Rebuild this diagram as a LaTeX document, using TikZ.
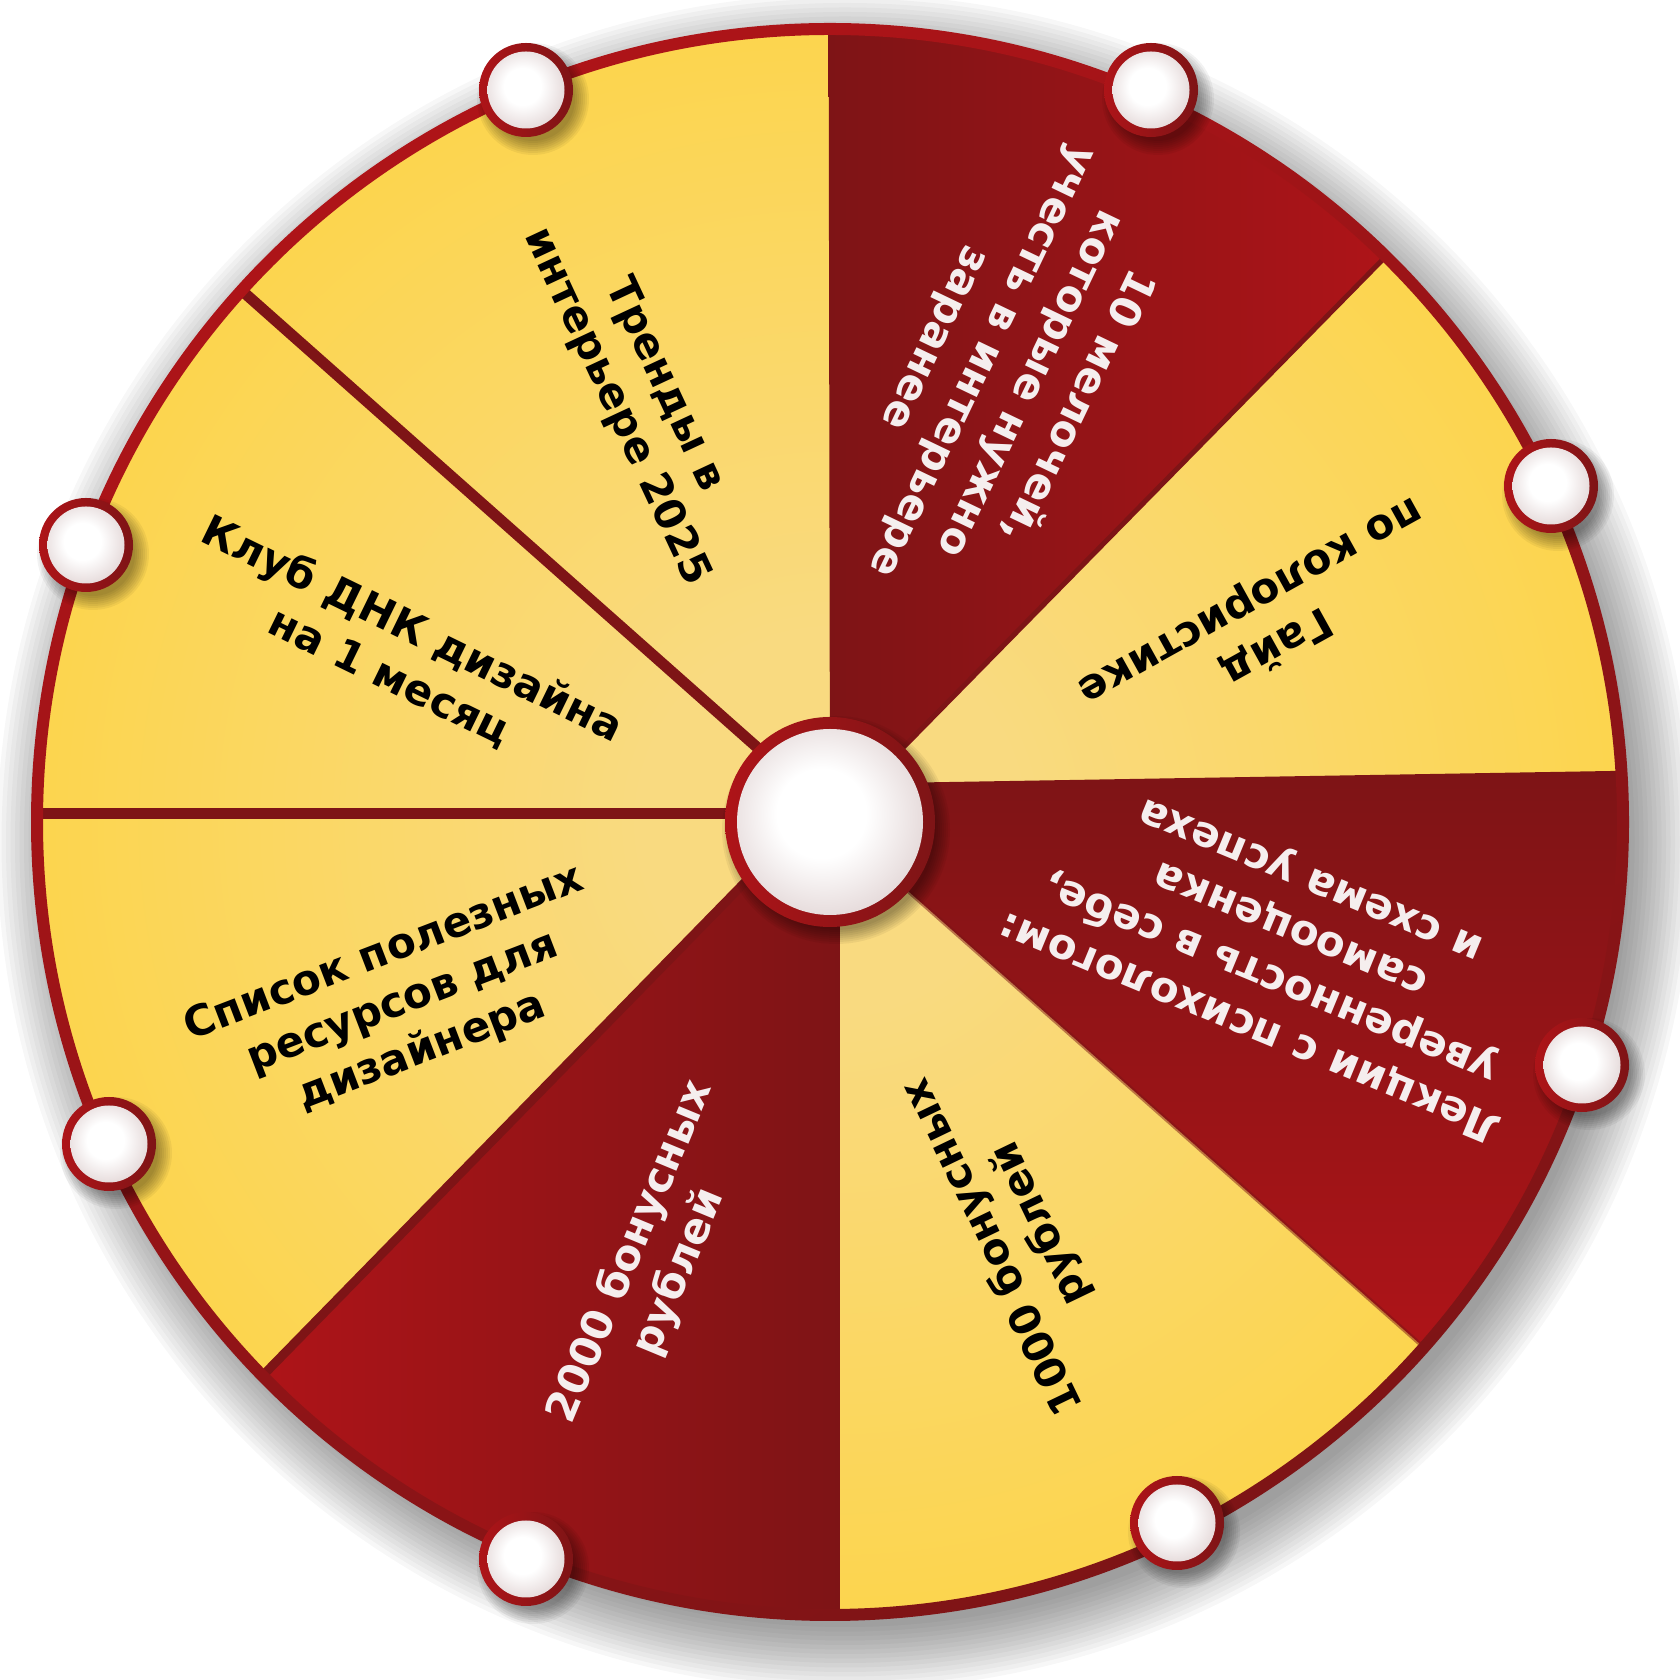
\documentclass[tikz,border=0pt]{standalone}
\usepackage{fontspec}
\newfontfamily\wf{DejaVu Sans}
\usetikzlibrary{calc}
\definecolor{yD}{HTML}{FCD54E}
\definecolor{yL}{HTML}{F9DA80}
\definecolor{redD}{HTML}{7E1416}
\definecolor{redB}{HTML}{AE1418}
\definecolor{pgray}{HTML}{E6DBDB}
\definecolor{wtext}{HTML}{F5EEEE}
\pgfdeclareradialshading{yel}{\pgfpoint{0bp}{0bp}}{color(0bp)=(yL); color(6bp)=(yL); color(25bp)=(yD); color(50bp)=(yD)}
\pgfdeclareradialshading{pegw}{\pgfpoint{-3bp}{3bp}}{color(0bp)=(white); color(12bp)=(white); color(27bp)=(pgray); color(50bp)=(pgray)}
\tikzset{
  lbl/.style={align=center, font=\wf\bfseries\fontsize{12}{15}\selectfont, inner sep=0pt},
  wl/.style={lbl, text=wtext},
  bl/.style={lbl, text=black},
  divider/.style={draw=redD, line width=0.11cm},
  pegshadow/.style={fill=black, opacity=0.05},
}
\newcommand{\peg}[1]{%
  \foreach \k in {0,...,7} \fill[pegshadow] ($(#1)+(0.07,-0.09)$) circle ({0.42+0.02*\k});
  \shade[left color=redB, right color=redD] (#1) circle (0.47);
  \shade[shading=pegw] (#1) circle (0.385);
}
\begin{document}
\begin{tikzpicture}
\useasboundingbox (0,0) rectangle (16.8,16.8);
\coordinate (C) at (8.30,8.58);
% wheel shadow
\foreach \r in {0,...,14} \fill[black,opacity=0.03] (8.45,8.38) circle ({7.85+0.045*\r});
% yellow base
\shade[shading=yel] (C) circle (7.93);
% red sectors
\shade[left color=redD, right color=redB] (C) -- ($(C)+(90.1:7.93)$) arc[start angle=90.1, end angle=45.5, radius=7.93] -- cycle;
\shade[top color=redD, bottom color=redB] (8.30,8.96) -- ($(C)+(3.7:7.93)$) arc[start angle=3.7, end angle=-41.5, radius=7.93] -- (C) -- cycle;
\shade[left color=redB, right color=redD] (8.40,8.58) -- ($(C)+(-89.28:7.93)$) arc[start angle=-89.28, end angle=-135.7, radius=7.93] -- (8.0,8.54) -- cycle;
% dividers
\coordinate (d1a) at (8.30,8.66);
\coordinate (d1b) at (0.40,8.66);
\coordinate (d2a) at (8.30,8.68);
\coordinate (d2b) at (2.40,13.91);
\draw[divider] (d1a) -- (d1b);
\draw[divider] (d2a) -- (d2b);
\draw[redD, line width=0.05cm] (C) -- ($(C)+(45.5:7.93)$);
\draw[redD, line width=0.09cm] (8.0,8.54) -- ($(C)+(-135.7:7.93)$);
\draw[redD, opacity=0.5, line width=0.04cm] (C) -- ($(C)+(-41.5:7.93)$);
% border
\shade[even odd rule, left color=redB, right color=redD, shading angle=30] (C) circle (7.99) (C) circle (7.87);
% pegs
\coordinate (p1) at (5.26,15.90);
\coordinate (p2) at (11.51,15.90);
\coordinate (p3) at (15.51,11.94);
\coordinate (p4) at (15.82,6.15);
\coordinate (p5) at (11.77,1.57);
\coordinate (p6) at (5.26,1.21);
\coordinate (p7) at (1.09,5.36);
\coordinate (p8) at (0.86,11.35);
\peg{p1}\peg{p2}\peg{p3}\peg{p4}\peg{p5}\peg{p6}\peg{p7}\peg{p8}
% hub
\foreach \k in {0,...,7} \fill[pegshadow] ($(C)+(0.06,-0.08)$) circle ({1.0+0.02*\k});
\shade[left color=redB, right color=redD] (C) circle (1.05);
\shade[shading=pegw] (C) circle (0.93);
% labels
\node[bl, rotate=-65] (t1) at (6.40,12.84) {Тренды в\\интерьере 2025};
\node[bl, rotate=-26] (t2) at (4.01,10.27) {Клуб ДНК дизайна\\на 1 месяц};
\node[bl, rotate=21] (t3) at (4.03,6.77) {Список полезных\\ресурсов для\\дизайнера};
\node[wl, rotate=67.5] (t4) at (6.55,4.18) {2000 бонусных\\рублей};
\node[bl, rotate=115.7] (t5) at (10.17,4.45) {1000 бонусных\\рублей};
\node[wl, rotate=157.5] (t6) at (12.81,7.28) {Лекции с психологом:\\уверенность в себе,\\самооценка\\и схема успеха};
\node[bl, rotate=209] (t7) at (12.63,10.57) {Гайд\\по колористике};
\node[wl, rotate=-115.6] (t8) at (10.06,13.08) {10 мелочей,\\которые нужно\\учесть в интерьере\\заранее};
\end{tikzpicture}
\end{document}
